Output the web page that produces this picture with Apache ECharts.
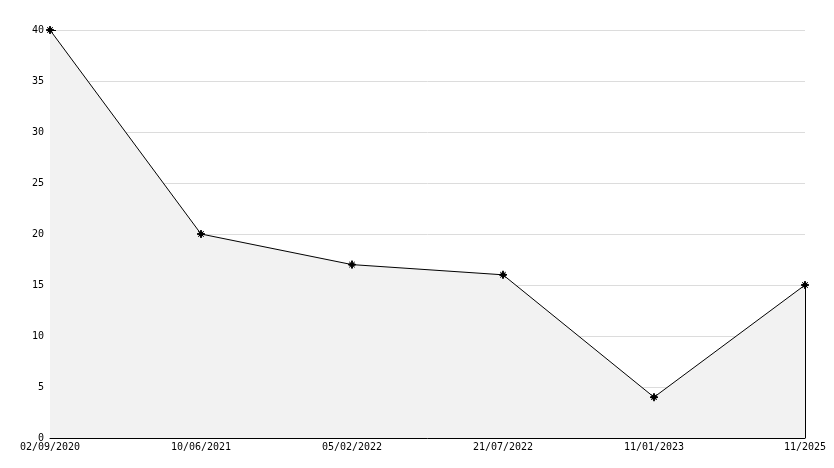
<!DOCTYPE html>
<html>
<head>
<meta charset="utf-8">
<script src="https://cdn.jsdelivr.net/npm/echarts@6/dist/echarts.min.js"></script>
<style>
  html, body { margin: 0; padding: 0; background: #fff; }
  #chart { width: 834px; height: 468px; }
</style>
</head>
<body>
<div id="chart"></div>
<script>
// dates and values
var dates = ['02/09/2020', '10/06/2021', '05/02/2022', '21/07/2022', '11/01/2023', '11/2025'];
var values = [40, 20, 17, 16, 4, 15];
var yMin = 0, yMax = 40, yStep = 5;

var font = 'DejaVu Sans Mono';
var lastDate = dates[dates.length - 1];
var lastValue = values[values.length - 1];

var myChart = echarts.init(document.getElementById('chart'));
var option = {
    animation: false,
    backgroundColor: '#ffffff',
    grid: { left: 50, right: 29, top: 30, bottom: 30, containLabel: false },
    xAxis: {
        type: 'category',
        data: dates,
        boundaryGap: false,
        axisLine: { lineStyle: { color: '#000', width: 1 } },
        axisTick: { inside: true, length: 5, lineStyle: { color: '#000' } },
        axisLabel: { color: '#000', fontFamily: font, fontSize: 10, margin: 4, interval: 0 },
        splitLine: { show: false }
    },
    yAxis: {
        type: 'value',
        min: yMin,
        max: yMax,
        interval: yStep,
        axisLine: { show: true, lineStyle: { color: '#000', width: 1 } },
        axisTick: { show: true, inside: true, length: 6, lineStyle: { color: '#000' } },
        minorTick: { show: true, splitNumber: 5, length: 4, lineStyle: { color: '#000' } },
        axisLabel: { color: '#000', fontFamily: font, fontSize: 10, margin: 6 },
        splitLine: { show: true, lineStyle: { color: '#dcdcdc', width: 1 } }
    },
    series: [{
        type: 'line',
        data: values,
        symbol: 'path://M0,-10 L3,-3 L10,0 L3,3 L0,10 L-3,3 L-10,0 L-3,-3 Z M-7,-7 L7,7 M7,-7 L-7,7',
        symbolSize: 8,
        itemStyle: { color: '#000', borderColor: '#000', borderWidth: 1 },
        lineStyle: { color: '#000', width: 1 },
        areaStyle: { color: '#f2f2f2', opacity: 1 },
        markLine: {
            silent: true,
            symbol: 'none',
            label: { show: false },
            lineStyle: { color: '#000', width: 1, type: 'solid' },
            data: [[{ coord: [lastDate, yMin] }, { coord: [lastDate, lastValue] }]]
        }
    }]
};
myChart.setOption(option);
</script>
</body>
</html>
